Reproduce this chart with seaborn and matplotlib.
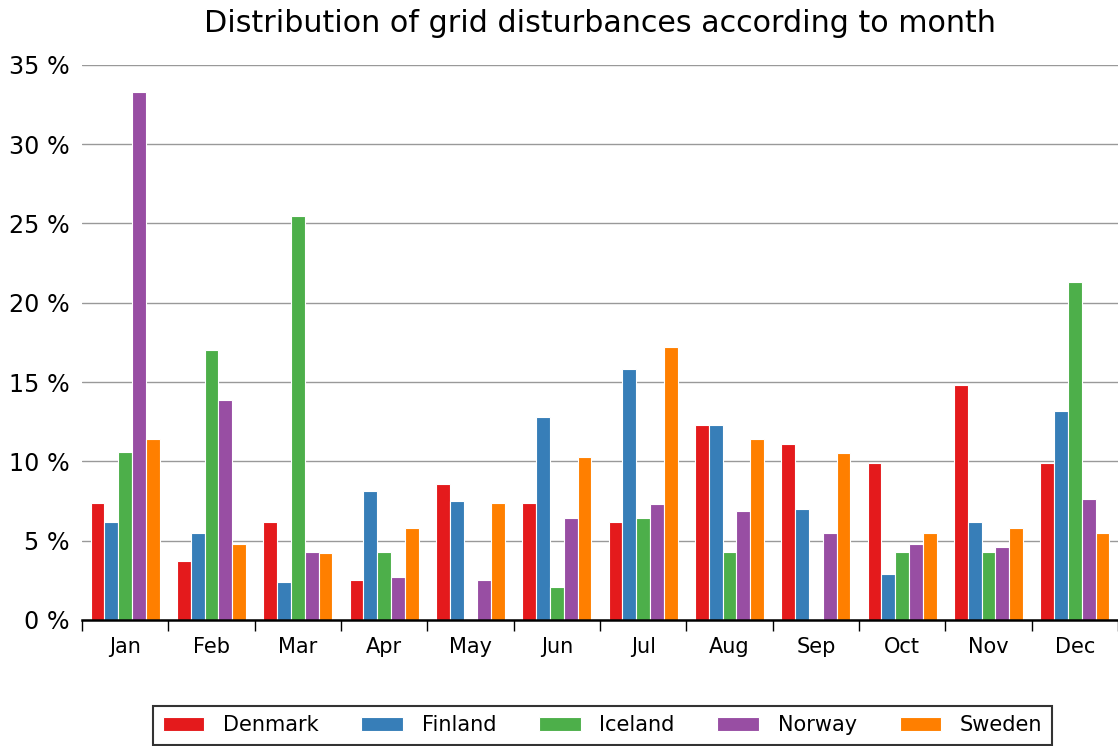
import pandas as pd
import matplotlib.pyplot as plt
import seaborn as sns
from matplotlib.ticker import FixedLocator, FuncFormatter

months = ["Jan", "Feb", "Mar", "Apr", "May", "Jun",
          "Jul", "Aug", "Sep", "Oct", "Nov", "Dec"]
countries = ["Denmark", "Finland", "Iceland", "Norway", "Sweden"]

# share of disturbances per month (%), None = no bar
denmark = [7.4, 3.7, 6.2, 2.5, 8.6, 7.4, 6.2, 12.3, 11.1, 9.9, 14.8, 9.9]
finland = [6.2, 5.5, 2.4, 8.1, 7.5, 12.8, 15.8, 12.3, 7.0, 2.9, 6.2, 13.2]
iceland = [10.6, 17.0, 25.5, 4.3, None, 2.1, 6.4, 4.3, None, 4.3, 4.3, 21.3]
norway = [33.3, 13.9, 4.3, 2.7, 2.5, 6.4, 7.3, 6.9, 5.5, 4.8, 4.6, 7.6]
sweden = [11.4, 4.8, 4.2, 5.8, 7.4, 10.3, 17.2, 11.4, 10.5, 5.5, 5.8, 5.5]

colors = ["#e41a1c", "#377eb8", "#4daf4a", "#984ea3", "#ff7f00"]

rows = []
for name, vals in zip(countries, [denmark, finland, iceland, norway, sweden]):
    for m, v in zip(months, vals):
        if v is not None:
            rows.append({"Month": m, "Country": name, "Share": v})
df = pd.DataFrame(rows)

sns.set_style("white")
plt.rcParams['font.family'] = ['DejaVu Sans']
plt.rcParams['text.color'] = 'black'
plt.rcParams['xtick.color'] = 'black'
plt.rcParams['ytick.color'] = 'black'

fig = plt.figure(figsize=(11.18, 7.46), dpi=100)
ax = fig.add_axes([0.0733, 0.169, 0.9267, 0.744])

sns.barplot(data=df, x="Month", y="Share", hue="Country", order=months,
            hue_order=countries, palette=colors, width=0.8, saturation=1,
            edgecolor="white", linewidth=0.8, ax=ax, legend=True, zorder=3)

ax.set_ylim(0, 35)
ax.set_xlim(-0.5, 11.5)
ax.set_yticks(range(0, 36, 5))
ax.yaxis.set_major_formatter(FuncFormatter(lambda v, p: f"{int(v)} %"))
ax.grid(axis="y", color="#999999", linewidth=1, zorder=0)
ax.set_axisbelow(True)
ax.set_xlabel("")
ax.set_ylabel("")

for s in ["top", "right", "left"]:
    ax.spines[s].set_visible(False)
ax.spines["bottom"].set_color("black")
ax.spines["bottom"].set_linewidth(1.8)
ax.spines["bottom"].set_zorder(5)

ax.tick_params(axis="y", length=0, labelsize=17.2, pad=9)
ax.tick_params(axis="x", which="major", length=0, labelsize=15, pad=12)
ax.xaxis.set_minor_locator(FixedLocator([i - 0.5 for i in range(13)]))
ax.tick_params(axis="x", which="minor", bottom=True, length=8, width=1,
               color="black", direction="out")

ax.set_title("Distribution of grid disturbances according to month",
             fontsize=21.7, pad=24)

handles, labels = ax.get_legend_handles_labels()
ax.legend_.remove()
leg = fig.legend(handles, labels, loc="lower center", bbox_to_anchor=(0.539, -0.012),
                 ncol=5, fontsize=15, frameon=True, fancybox=False,
                 handlelength=2.0, handleheight=0.7, handletextpad=0.9,
                 columnspacing=2.05, borderpad=0.45, borderaxespad=0.5,
                 edgecolor="black")
leg.get_frame().set_linewidth(1.5)

fig.savefig("out.png", dpi=100)
